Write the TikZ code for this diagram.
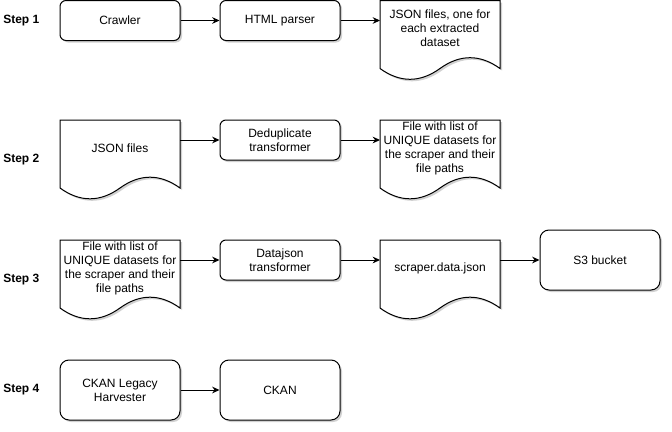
\documentclass[tikz,border=0pt]{standalone}
\usepackage{fontspec}
\setmainfont{Liberation Sans}
\usepackage{tikz}
\usetikzlibrary{arrows.meta,positioning,shadows,calc}
\pgfdeclarelayer{background}
\pgfsetlayers{background,main}
\tikzset{
  dshadow/.style={drop shadow={shadow xshift=1.5pt, shadow yshift=-1.5pt,
                  fill=black, opacity=.18}},
  box/.style={draw, line width=0.75pt, rounded corners=4.5pt, fill=white,
              dshadow, align=center, font=\fontsize{9}{10.5}\selectfont,
              inner sep=1pt, minimum width=90pt, minimum height=30pt},
  bigbox/.style={box, rounded corners=6.75pt, minimum height=45pt},
  doc/.style={align=center, font=\fontsize{9}{10.5}\selectfont,
              inner sep=1pt, outer sep=0pt, minimum width=90pt,
              minimum height=42pt},
  docline/.style={draw, line width=0.75pt, fill=white, dshadow},
  lbl/.style={font=\fontsize{9}{10.5}\selectfont\bfseries, anchor=west,
              inner sep=0pt},
  flow/.style={-{Stealth[length=5.5pt, width=5pt]}, line width=0.75pt},
}
% document outline with wavy bottom, drawn round a doc node
\newcommand{\docoutline}[1]{%
  \draw[docline] (#1.north west) -- (#1.north east)
    -- ($(#1.north west)+(120,68)$)
    .. controls ($(#1.north west)+(100,53.6)$) and ($(#1.north west)+(80,53.6)$)
    .. ($(#1.north west)+(60,68)$)
    .. controls ($(#1.north west)+(40,82.4)$) and ($(#1.north west)+(20,82.4)$)
    .. ($(#1.north west)+(0,68)$) -- cycle;}

\begin{document}
\begin{tikzpicture}[x=0.75pt, y=-0.75pt]
  \useasboundingbox (0,0) rectangle (672,432);
  % step 1
  \node[lbl] (s1) at (3,20.5) {Step 1};
  \node[box] (crawl) at (120,20.5) {Crawler};
  \node[box] (html) at (280,20.5) {HTML parser};
  \node[doc] (jsonall) at (440,28.5)
    {JSON files, one for\\ each extracted\\ dataset};
  \draw[flow] (crawl) -- (html);
  \draw[flow] (html.east) -- (html.east -| jsonall.west);
  % step 2
  \node[lbl] (s2) at (3,160) {Step 2};
  \node[doc] (jsonin) at (120,148) {JSON files};
  \node[box] (dedup) at (280,140) {Deduplicate\\ transformer};
  \node[doc] (uniq) at (440,148)
    {File with list of\\ UNIQUE datasets for\\ the scraper and their\\ file paths};
  \draw[flow] (jsonin.east |- dedup.west) -- (dedup.west);
  \draw[flow] (dedup.east) -- (dedup.east -| uniq.west);
  % step 3
  \node[lbl] (s3) at (3,280) {Step 3};
  \node[doc] (uniqin) at (120,268)
    {File with list of\\ UNIQUE datasets for\\ the scraper and their\\ file paths};
  \node[box] (dj) at (280,260) {Datajson\\ transformer};
  \node[doc] (scrj) at (440,268) {scraper.data.json};
  \node[bigbox] (sthree) at (600,260) {S3 bucket};
  \draw[flow] (uniqin.east |- dj.west) -- (dj.west);
  \draw[flow] (dj.east) -- (dj.east -| scrj.west);
  \draw[flow] (scrj.east |- sthree.west) -- (sthree.west);
  % step 4
  \node[lbl] (s4) at (3,390) {Step 4};
  \node[bigbox] (ckh) at (120,390) {CKAN Legacy\\ Harvester};
  \node[bigbox] (ckan) at (280,390) {CKAN};
  \draw[flow] (ckh) -- (ckan);
  % document outlines
  \begin{pgfonlayer}{background}
    \docoutline{jsonall}
    \docoutline{jsonin}
    \docoutline{uniq}
    \docoutline{uniqin}
    \docoutline{scrj}
  \end{pgfonlayer}
\end{tikzpicture}
\end{document}
